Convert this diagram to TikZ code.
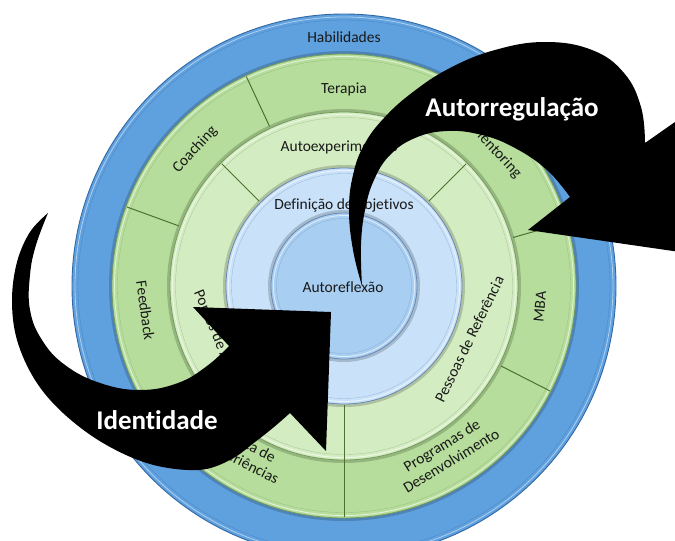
\documentclass[tikz,border=0pt]{standalone}
\usepackage{fontspec}
\setmainfont{Carlito}[Ligatures={NoCommon}]
\definecolor{ringblue}{RGB}{95,160,222}
\definecolor{blueedge}{RGB}{50,105,165}
\definecolor{greenout}{RGB}{182,221,155}
\definecolor{greenedge}{RGB}{115,155,90}
\definecolor{greenin}{RGB}{212,236,194}
\definecolor{skyring}{RGB}{201,226,249}
\definecolor{skyedge}{RGB}{105,135,175}
\definecolor{corefill}{RGB}{168,206,241}
\definecolor{divgreen}{RGB}{75,115,45}
\definecolor{labeltext}{RGB}{25,25,25}
% one bevelled disc: radius, fill colour, rim colour
\newcommand{\bevdisk}[3]{%
  \draw[black, opacity=0.18, line width=3pt] (0,0) circle[radius={#1+1.5}];
  \fill[#2] (0,0) circle[radius=#1];
  \draw[#3, line width=0.8pt] (0,0) circle[radius=#1];
  \draw[white, opacity=0.6, line width=0.9pt] (0,0) circle[radius={#1-2.5}];
  \draw[#3, opacity=0.45, line width=0.35pt] (0,0) circle[radius={#1-5.5}];
}
\begin{document}
\begin{tikzpicture}[x=1pt,y=-1pt,
  lbl/.style={font=\fontsize{15.5}{18}\selectfont, text=labeltext, align=center, inner sep=0pt},
  arrowtxt/.style={font=\fontsize{27}{32}\selectfont\bfseries, text=white, inner sep=0pt},
  divider/.style={draw=divgreen, line width=1pt},
  bigarrow/.style={fill=black}
]
\useasboundingbox (0,0) rectangle (675,541);
\clip (0,0) rectangle (675,541);

% nested rings, centred on the core disc
\begin{scope}[shift={(344,286)}, yscale=-1]
  \fill[ringblue] (0,0) circle[radius=272];
  \draw[blueedge, line width=0.9pt] (0,0) circle[radius=272];
  \draw[white, opacity=0.5, line width=0.8pt] (0,0) circle[radius=269];
  \draw[blueedge, opacity=0.45, line width=0.35pt] (0,0) circle[radius=266];
  \bevdisk{232}{greenout}{greenedge}
  \bevdisk{174}{greenin}{greenedge}
  \bevdisk{118}{skyring}{skyedge}
  \bevdisk{73}{corefill}{skyedge}

  % segment borders of the two green rings
  \foreach \a in {16,65,115,160,212,333}
    \draw[divider] (\a:176) -- (\a:231);
  \draw[divider] (270:119) -- (270:231);
  \foreach \a in {45,135}
    \draw[divider] (\a:120) -- (\a:173);

  % labels
  \node[lbl] (habil) at (90:249) {Habilidades};
  \node[lbl] (terapia) at (90:197) {Terapia};
  \node[lbl, rotate=-47] (mentor) at (41.5:203) {Mentoring};
  \node[lbl, rotate=84.5] (mba) at (-6:197) {MBA};
  \node[lbl, rotate=31.5] (progr) at (301.5:196) {Programas de\\Desenvolvimento};
  \node[lbl, rotate=-27] (troca) at (240:195) {Troca de\\Experiências};
  \node[lbl, rotate=-82] (feedb) at (187:200) {Feedback};
  \node[lbl, rotate=47.5] (coach) at (137.5:202) {Coaching};
  \node[lbl] (autoexp) at (-5,139) {Autoexperimentos};
  \node[lbl, rotate=64] (pessoas) at (-23:136) {Pessoas de Referência};
  \node[lbl, rotate=-67.5] (pontos) at (202.5:137) {Pontos de Apoio};
  \node[lbl] (defobj) at (0,81) {Definição de objetivos};
  \node[lbl] (autoref) at (-1,-1) {Autoreflexão};
\end{scope}

% curved arrow rising from the core and sweeping to the right
\fill[bigarrow] plot[smooth, tension=0.7] coordinates {(362,286) (353,250) (349,210) (353,175) (364,145) (384,118) (413,92) (450,68) (495,50) (545,42) (592,50) (624,73) (641,107) (645,143)}
  -- (705,101) -- (680,252) -- (528,230) -- (570,197)
  -- plot[smooth, tension=0.7] coordinates {(570,197) (547,170) (515,148) (482,135) (447,131) (415,138) (390,155) (374,180) (365,210) (361,245) (362,286)} -- cycle;
\node[arrowtxt] (autoreg) at (512,109) {Autorregulação};

% curved arrow coming round from the left into the core
\fill[bigarrow] plot[smooth, tension=0.6] coordinates {(48,213) (30,232) (17,262) (12,300) (17,340) (35,380) (63,413) (103,443) (150,464) (198,470) (230,460) (255,442) (274,427) (290,413)}
  -- (326,451) -- (331,312) -- (193,307) -- (229,346)
  -- plot[smooth, tension=0.7] coordinates {(229,346) (207,366) (178,383) (140,390) (100,383) (65,365) (42,340) (30,310) (30,275) (36,245) (48,213)} -- cycle;
\node[arrowtxt] (ident) at (157,420) {Identidade};
\end{tikzpicture}
\end{document}
